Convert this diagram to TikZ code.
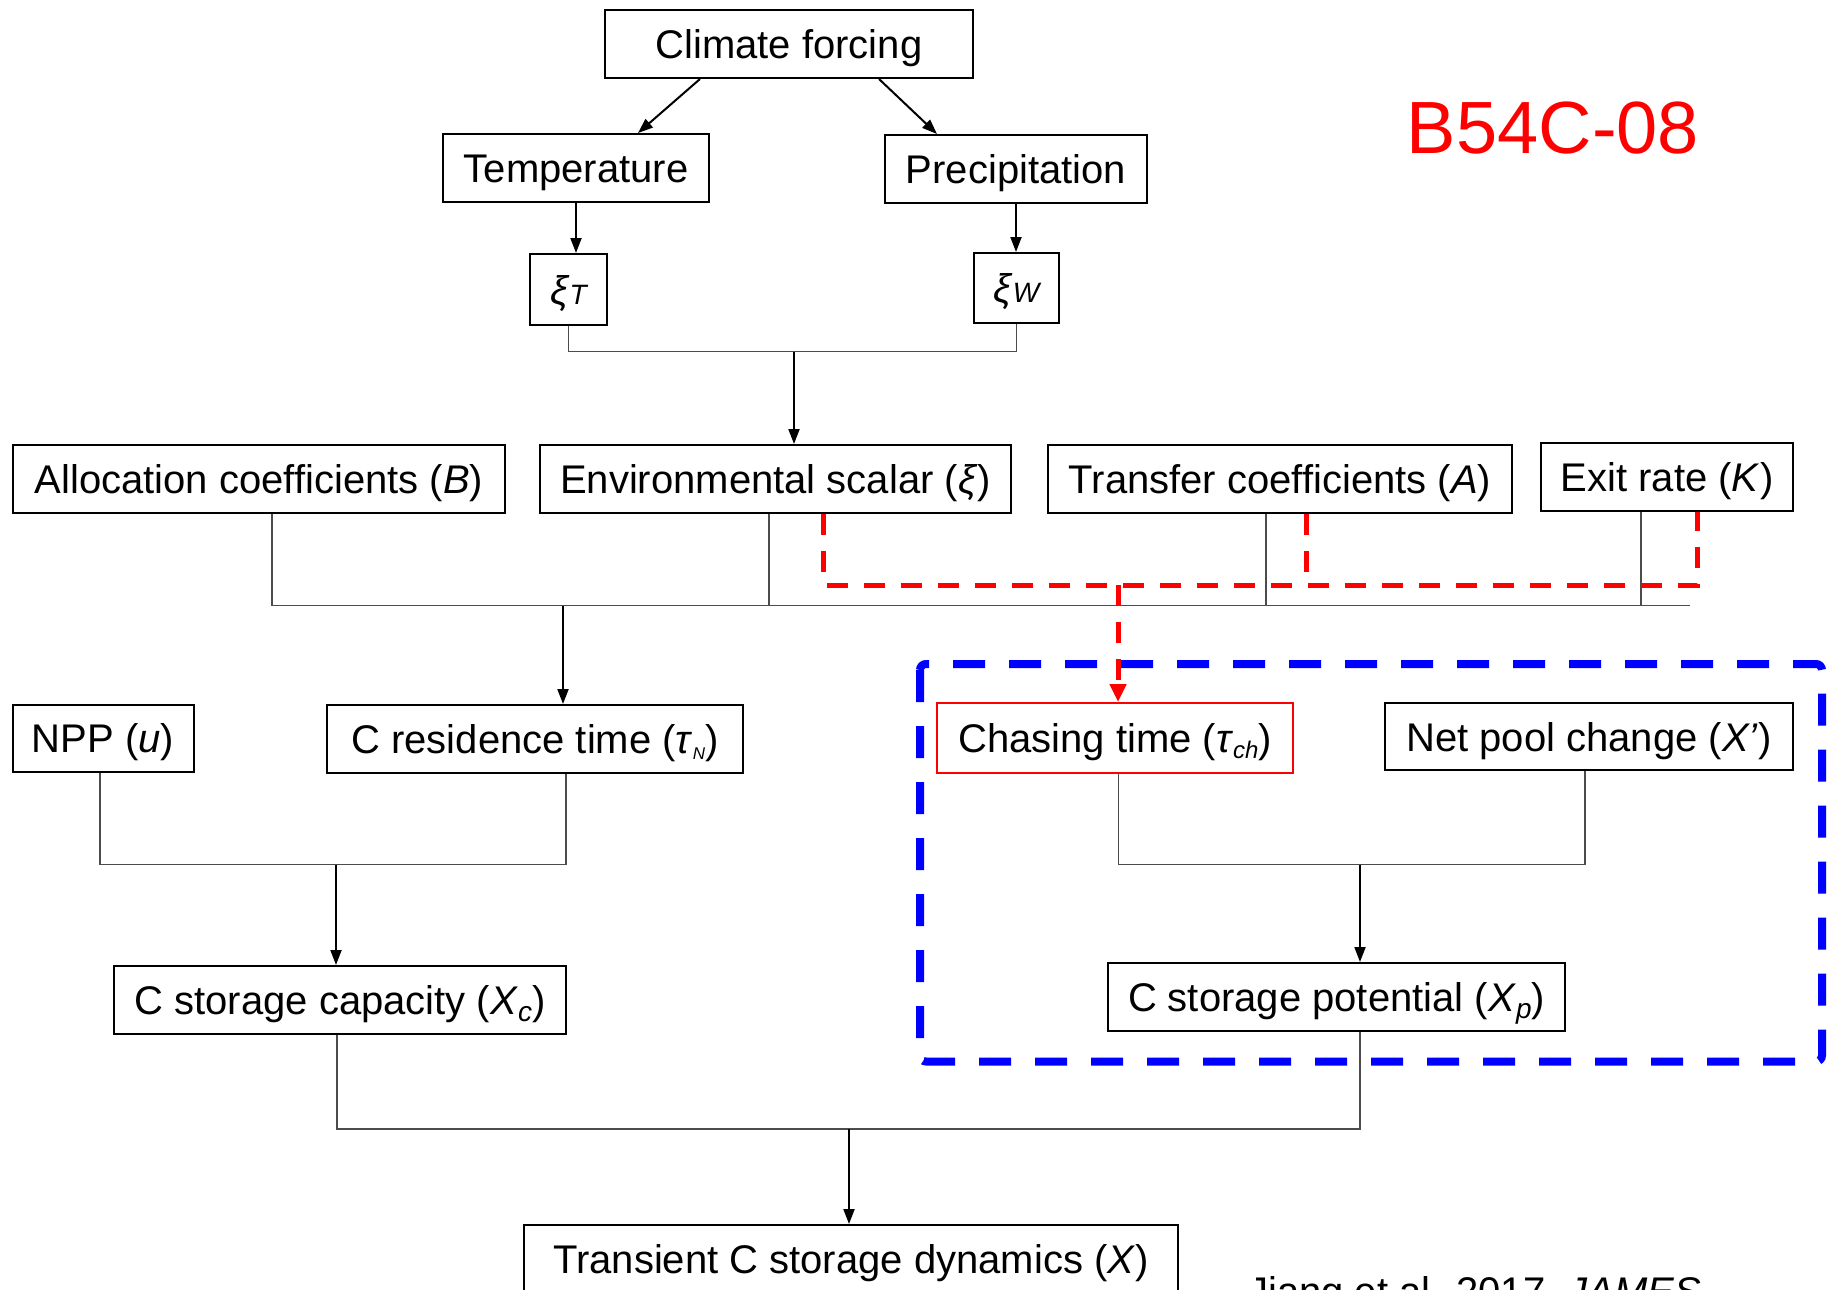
\documentclass[tikz,border=0pt]{standalone}
\usepackage{fontspec}
\setmainfont{Liberation Sans}
\usetikzlibrary{arrows.meta}
\newcommand{\sbs}[2]{{\fontsize{#1}{#1}\selectfont\itshape #2}}
\begin{document}
\begin{tikzpicture}[x=1pt,y=-1pt,
  box/.style={draw=black, line width=2pt, inner sep=0pt, text height=29pt, text depth=0pt,
    font=\fontsize{40}{48}\selectfont},
  redbox/.style={box, draw=red},
  conn/.style={draw=black!70, line width=1.4pt},
  arr/.style={draw=black, line width=2pt, -{Triangle[length=15pt,width=11pt]}},
  reddash/.style={draw=red, line width=5pt, dash pattern=on 21pt off 16pt},
  redarr/.style={reddash, -{Triangle[length=18pt,width=16pt]}},
  bluedash/.style={draw=blue, line width=8pt, dash pattern=on 32pt off 24pt, rounded corners=6pt}]
\path[use as bounding box] (0,0) rectangle (1829,1290);
\clip (0,0) rectangle (1829,1290);

% boxes
\node[box, minimum width=368pt, minimum height=68pt] (cf) at (789,44) {Climate forcing};
\node[box, minimum width=266pt, minimum height=68pt] (temp) at (576,168) {Temperature};
\node[box, minimum width=262pt, minimum height=68pt] (prec) at (1016,169) {Precipitation};
\node[box, minimum width=77pt, minimum height=71pt] (xiT) at (568.5,289.5) {\textit{ξ}\sbs{28}{T}};
\node[box, minimum width=85pt, minimum height=70pt] (xiW) at (1016.5,288) {\textit{ξ}\sbs{28}{W}};
\node[box, minimum width=492pt, minimum height=68pt] (alloc) at (259,479.3) {Allocation coefficients (\textit{B})};
\node[box, minimum width=471pt, minimum height=68pt] (env) at (775.5,479) {Environmental scalar (\textit{ξ})};
\node[box, minimum width=464pt, minimum height=68pt] (trans) at (1280,479) {Transfer coefficients (\textit{A})};
\node[box, minimum width=252pt, minimum height=68pt] (exit) at (1667,477) {Exit rate (\textit{K})};
\node[box, minimum width=181pt, minimum height=67pt] (npp) at (103,738) {NPP (\textit{u})};
\node[box, minimum width=416pt, minimum height=68pt] (res) at (535,739) {C residence time (\textit{τ}\raisebox{-6pt}{\sbs{17}{N}})};
\node[redbox, minimum width=356pt, minimum height=70pt] (chase) at (1115,738) {Chasing time (\textit{τ}\raisebox{-6pt}{\sbs{24}{ch}})};
\node[box, minimum width=408pt, minimum height=67pt] (net) at (1589,736.5) {Net pool change (\textit{X’})};
\node[box, minimum width=452pt, minimum height=68pt] (cap) at (340,1000) {C storage capacity (\textit{X}\raisebox{-7pt}{\sbs{28}{c}})};
\node[box, minimum width=457pt, minimum height=68pt] (pot) at (1336.5,997) {C storage potential (\textit{X}\raisebox{-7pt}{\sbs{28}{p}})};
\node[box, minimum width=654pt, minimum height=68pt] (trsn) at (851,1259) {Transient C storage dynamics (\textit{X})};

% labels
\node[anchor=base, text=red, inner sep=0pt, font=\fontsize{74}{80}\selectfont] (code) at (1553,153.5) {B54C-08};
\node[anchor=base west, inner sep=0pt, font=\fontsize{40}{48}\selectfont] (cite) at (1248,1305) {Jiang et al. 2017, \textit{JAMES}};

% blue dashed frame
\draw[bluedash] (920,664) rectangle (1822,1061.5);

% top part
\draw[arr] ([xshift=-89pt]cf.south) -- ([xshift=62pt]temp.north);
\draw[arr] ([xshift=90pt]cf.south) -- ([xshift=-79pt]prec.north);
\draw[arr] (temp.south) -- (temp.south |- xiT.north);
\draw[arr] (prec.south) -- (prec.south |- xiW.north);
\coordinate (j1) at (794,351.5);
\draw[conn] (xiT.south) |- (j1) -| (xiW.south);
\draw[arr] (j1) -- (j1 |- env.north);

% row of coefficients
\coordinate (h2end) at (1690,605.5);
\coordinate (aS) at ([xshift=13pt]alloc.south);
\coordinate (eS) at ([xshift=-6.5pt]env.south);
\coordinate (tS) at ([xshift=-14pt]trans.south);
\coordinate (xS) at ([xshift=-26pt]exit.south);
\draw[conn] (aS) |- (h2end);
\draw[conn] (eS) -- (eS |- h2end);
\draw[conn] (tS) -- (tS |- h2end);
\draw[conn] (xS) -- (xS |- h2end);
\coordinate (j2) at (563,605.5);
\draw[arr] (j2) -- (j2 |- res.north);

% red dashed links
\coordinate (rl) at (1118,585);
\coordinate (envR) at ([xshift=48pt]env.south);
\coordinate (exR) at ([xshift=30pt]exit.south);
\coordinate (trR) at ([xshift=26.5pt]trans.south);
\draw[reddash] (envR) |- (exR |- rl) -- (exR);
\draw[reddash] (trR) -- (trR |- rl);
\draw[redarr] (rl) -- (rl |- chase.north);

% NPP + residence
\coordinate (h3) at (0,864.5);
\coordinate (nS) at ([xshift=-3pt]npp.south);
\coordinate (rS) at ([xshift=31pt]res.south);
\draw[conn] (nS) |- (rS |- h3) -- (rS);
\coordinate (j3) at (336,864.5);
\draw[arr] (j3) -- (j3 |- cap.north);

% chasing + net pool
\coordinate (cS) at ([xshift=3.5pt]chase.south);
\coordinate (npS) at ([xshift=-4pt]net.south);
\draw[conn] (cS) |- (npS |- h3) -- (npS);
\coordinate (j4) at (1360,864.5);
\draw[arr] (j4) -- (j4 |- pot.north);

% capacity + potential
\coordinate (h5) at (0,1129);
\coordinate (capS) at ([xshift=-3pt]cap.south);
\coordinate (potS) at ([xshift=23.5pt]pot.south);
\draw[conn] (capS) |- (potS |- h5) -- (potS);
\coordinate (j5) at (849,1129);
\draw[arr] (j5) -- (j5 |- trsn.north);
\end{tikzpicture}
\end{document}
